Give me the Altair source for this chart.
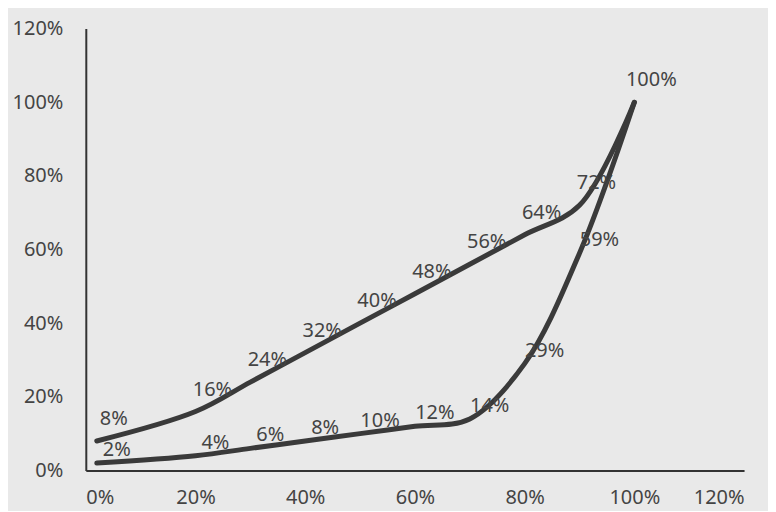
import altair as alt
import pandas as pd

# cumulative population share (x) and the two cumulative curves (y)
x_share = [0.02, 0.20, 0.30, 0.40, 0.50, 0.60, 0.70, 0.80, 0.90, 1.00]
upper_curve = [0.08, 0.16, 0.24, 0.32, 0.40, 0.48, 0.56, 0.64, 0.72, 1.00]
lower_curve = [0.02, 0.04, 0.06, 0.08, 0.10, 0.12, 0.14, 0.29, 0.59, 1.00]
axis_ticks = [0, 0.2, 0.4, 0.6, 0.8, 1.0, 1.2]

rows = []
for xv, yv in zip(x_share, upper_curve):
    rows.append({"x": xv, "y": yv, "series": "upper"})
for xv, yv in zip(x_share, lower_curve):
    rows.append({"x": xv, "y": yv, "series": "lower"})
df = pd.DataFrame(rows)

FONT = "Noto Sans"
INK = "#3a3a3a"
TXT = "#444444"

xenc = alt.X(
    "x:Q",
    scale=alt.Scale(domain=[0, 1.2], nice=False),
    axis=alt.Axis(values=axis_ticks, format=".0%", title=None, grid=False,
                  ticks=False, tickSize=0, labelPadding=17,
                  domainColor="#333333", domainWidth=2,
                  labelFont=FONT, labelFontSize=20, labelColor=TXT),
)
yenc = alt.Y(
    "y:Q",
    scale=alt.Scale(domain=[0, 1.2], nice=False),
    axis=alt.Axis(values=axis_ticks, format=".0%", title=None, grid=False,
                  ticks=False, tickSize=0, labelPadding=23,
                  domainColor="#333333", domainWidth=2,
                  labelFont=FONT, labelFontSize=20, labelColor=TXT),
)

base = alt.Chart(df)

lines = base.mark_line(
    interpolate="catmull-rom", strokeWidth=5, color=INK, strokeCap="round"
).encode(x=xenc, y=yenc, detail="series:N", order="x:Q")

upper_labels = base.transform_filter(alt.datum.series == "upper").mark_text(
    font=FONT, fontSize=20, color=TXT, align="center",
    baseline="middle", dx=17, dy=-22
).encode(x=xenc, y=yenc, text=alt.Text("y:Q", format=".0%"))

# the shared end point (100%, 100%) carries a single label in the reference
lower_labels = base.transform_filter(
    (alt.datum.series == "lower") & (alt.datum.x < 1)
).mark_text(
    font=FONT, fontSize=20, color=TXT, align="center",
    baseline="middle", dx=20, dy=-13
).encode(x=xenc, y=yenc, text=alt.Text("y:Q", format=".0%"))

chart = alt.layer(lines, upper_labels, lower_labels).properties(
    width=660, height=443,
    autosize=alt.AutoSizeParams(type="none"),
    padding={"left": 78, "top": 20, "right": 24, "bottom": 40},
    background="#e9e9e9",
).configure_view(stroke=None)

chart.save("out.html", embed_options={"renderer": "svg", "actions": False})
